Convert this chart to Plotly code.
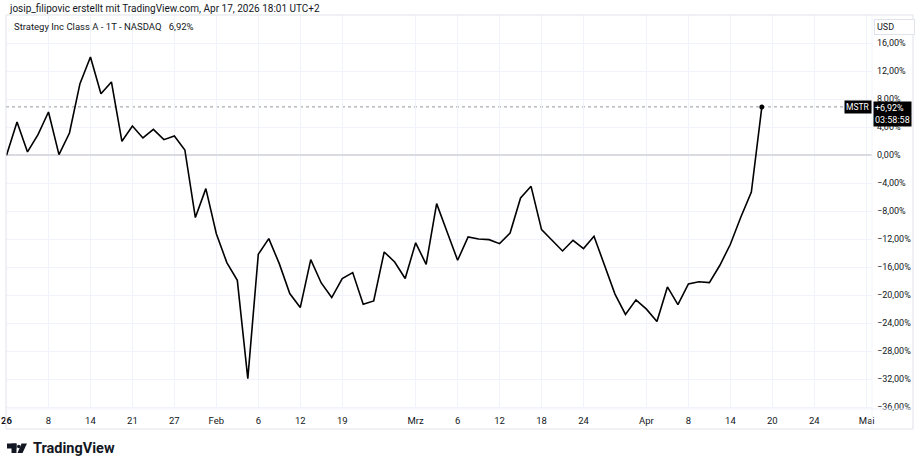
import pandas as pd
import plotly.graph_objects as go

# ---- data ----
holidays = ["2026-01-19", "2026-02-16", "2026-04-03"]
calendar = [d for d in pd.bdate_range("2026-01-02", "2026-05-01") if d.strftime("%Y-%m-%d") not in holidays]
cal_index = {d.strftime("%Y-%m-%d"): i for i, d in enumerate(calendar)}

pct_change = [
    0.0, 4.76, 0.48, 2.95, 6.19, 0.1, 3.19, 10.24, 14.05, 8.81,
    10.48, 2.0, 4.19, 2.48, 3.71, 2.24, 2.76, 0.76, -8.9, -4.76,
    -11.2, -15.33, -17.86, -31.9, -14.14, -11.9, -15.48, -19.76, -21.76, -14.9,
    -18.24, -20.33, -17.62, -16.76, -21.29, -20.81, -13.81, -15.24, -17.6, -12.5,
    -15.57, -6.9, -10.95, -15.0, -11.67, -11.95, -12.05, -12.62, -11.1, -6.1,
    -4.43, -10.62, -12.14, -13.67, -12.14, -13.33, -11.57, -15.7, -19.83, -22.73,
    -20.65, -21.98, -23.76, -18.81, -21.33, -18.37, -18.07, -18.19, -15.71, -12.71,
    -8.81, -5.24, 6.92,
]
dates = [d.strftime("%Y-%m-%d") for d in calendar[:len(pct_change)]]

tick_dates = ["2026-01-02", "2026-01-08", "2026-01-14", "2026-01-21", "2026-01-27",
              "2026-02-02", "2026-02-06", "2026-02-12", "2026-02-19", "2026-03-02",
              "2026-03-06", "2026-03-12", "2026-03-18", "2026-03-24", "2026-04-01",
              "2026-04-08", "2026-04-14", "2026-04-20", "2026-04-24", "2026-05-01"]
tick_labels = ["<b>26</b>", "8", "14", "21", "27", "Feb", "6", "12", "19", "Mrz",
               "6", "12", "18", "24", "Apr", "8", "14", "20", "24", "Mai"]

y_ticks = list(range(-36, 17, 4))
y_tick_labels = [(f"{v:.2f}%".replace(".", ",")).replace("-", "\u2212") for v in y_ticks]

last_value = pct_change[-1]
last_label = "+6,92%"
countdown = "03:58:58"

# ---- geometry helpers (pixel -> paper) ----
W, H = 920, 467
ML, MR, MT, MB = 6, 48, 15, 58
PW, PH = W - ML - MR, H - MT - MB


def px(X):
    return (X - ML) / PW


def py(Y):
    return (H - MB - Y) / PH


FONT = "Roboto"
TXT = "#131722"
BORDER = "#e0e3eb"
GRID = "#f0f3fa"

x_vals = [cal_index[d] for d in dates]

fig = go.Figure()
fig.add_trace(go.Scatter(
    x=x_vals, y=pct_change, mode="lines",
    line=dict(color="#000000", width=1.6),
    hoverinfo="skip", showlegend=False, cliponaxis=False,
))
fig.add_trace(go.Scatter(
    x=[x_vals[-1]], y=[last_value], mode="markers",
    marker=dict(color="#000000", size=5),
    hoverinfo="skip", showlegend=False,
))

shapes = []
# price line (dotted)
shapes.append(dict(type="line", xref="paper", yref="y", x0=0, x1=1, y0=last_value, y1=last_value,
                   line=dict(color="#9598a1", width=1, dash="dot"), layer="below"))
# outer frame
shapes.append(dict(type="rect", xref="paper", yref="paper", x0=px(6), x1=px(913), y0=py(429), y1=py(15),
                   line=dict(color=BORDER, width=1)))
# separators
shapes.append(dict(type="line", xref="paper", yref="paper", x0=1, x1=1, y0=py(429), y1=py(15),
                   line=dict(color=GRID, width=1)))
shapes.append(dict(type="line", xref="paper", yref="paper", x0=px(6), x1=px(913), y0=0, y1=0,
                   line=dict(color=GRID, width=1)))
# TradingView logo glyph
shapes.append(dict(type="rect", xref="paper", yref="paper", x0=px(7), x1=px(16.5), y0=py(448.5), y1=py(443.5),
                   line=dict(width=0), fillcolor=TXT))
shapes.append(dict(type="rect", xref="paper", yref="paper", x0=px(11.5), x1=px(16.5), y0=py(453), y1=py(443.5),
                   line=dict(width=0), fillcolor=TXT))
shapes.append(dict(type="circle", xref="paper", yref="paper", x0=px(17), x1=px(20.4), y0=py(448.2), y1=py(444.8),
                   line=dict(width=0), fillcolor=TXT))
shapes.append(dict(type="path", xref="paper", yref="paper",
                   path=f"M {px(21.5)} {py(443.5)} L {px(27)} {py(443.5)} L {px(22.5)} {py(453)} L {px(17.5)} {py(453)} Z",
                   line=dict(width=0), fillcolor=TXT))

annotations = [
    dict(xref="paper", yref="paper", x=px(7), y=py(8.5), xanchor="left", yanchor="middle",
         text="josip_filipovic erstellt mit TradingView.com, Apr 17, 2026 18:01 UTC+2",
         showarrow=False, font=dict(family=FONT, size=10, color=TXT)),
    dict(xref="paper", yref="paper", x=px(12), y=py(27), xanchor="left", yanchor="middle",
         text="Strategy Inc Class A - 1T - NASDAQ\u2002 6,92%",
         showarrow=False, font=dict(family=FONT, size=9.5, color=TXT)),
    dict(xref="paper", yref="paper", x=px(874), y=py(27), xanchor="left", yanchor="middle",
         text="USD\u2003\u2003", showarrow=False, font=dict(family=FONT, size=9, color=TXT),
         bordercolor=BORDER, borderwidth=1, borderpad=2, bgcolor="#ffffff"),
    dict(xref="paper", yref="y", x=1, y=last_value, xanchor="right", yanchor="middle",
         text="MSTR", showarrow=False, font=dict(family=FONT, size=8.5, color="#ffffff"),
         bgcolor="#000000", borderpad=1),
    dict(xref="paper", yref="y", x=px(873), y=last_value + 0.8, xanchor="left", yanchor="top",
         text=f"{last_label}<br>{countdown}", showarrow=False, align="left",
         font=dict(family=FONT, size=9, color="#ffffff"),
         bgcolor="#000000", borderpad=1),
    dict(xref="paper", yref="paper", x=px(31), y=py(448.5), xanchor="left", yanchor="middle",
         text="<b>TradingView</b>", showarrow=False, font=dict(family=FONT, size=14.5, color=TXT)),
]

fig.update_layout(
    width=W, height=H,
    margin=dict(l=ML, r=MR, t=MT, b=MB, autoexpand=False),
    paper_bgcolor="#ffffff", plot_bgcolor="#ffffff",
    showlegend=False,
    font=dict(family=FONT, size=10, color=TXT),
    shapes=shapes, annotations=annotations,
    xaxis=dict(
        range=[-0.05, 82.5], tickmode="array",
        tickvals=[cal_index[d] for d in tick_dates], ticktext=tick_labels,
        showgrid=True, gridcolor=GRID, gridwidth=1, zeroline=False, showline=False,
        ticks="", ticklabelstandoff=4, tickfont=dict(family=FONT, size=9.5, color=TXT),
        fixedrange=True, automargin=False,
    ),
    yaxis=dict(
        side="right", range=[-36.25, 20.05], tickmode="array",
        tickvals=y_ticks, ticktext=y_tick_labels,
        showgrid=True, gridcolor=GRID, gridwidth=1,
        zeroline=True, zerolinecolor="#d9dbe0", zerolinewidth=1.5,
        showline=False, ticks="", ticklabelstandoff=4,
        tickfont=dict(family=FONT, size=9, color=TXT), fixedrange=True, automargin=False,
    ),
)

fig.write_html("out.html", config={"displayModeBar": False},
               post_script="document.body.style.margin='0';document.body.style.padding='0';")
